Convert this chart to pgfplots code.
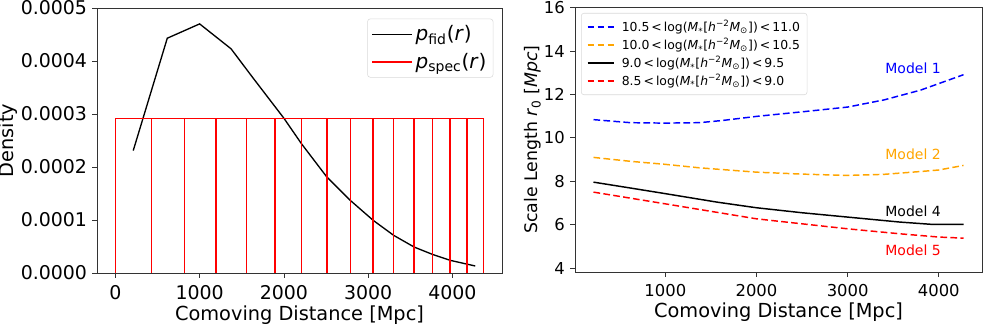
\documentclass[border=0pt]{standalone}
\usepackage{pgfplots}
\pgfplotsset{compat=1.18}
\usepackage{fontspec}
\setmainfont{DejaVu Sans}
\definecolor{mplorange}{RGB}{255,165,0}
\begin{document}
\begin{tikzpicture}[x=1pt,y=1pt]
\useasboundingbox (0,0) rectangle (740.25,249);
\pgfplotsset{
  every axis/.append style={
    scale only axis,
    axis line style={black!80, line width=0.6pt},
    tick align=outside, tick pos=left,
    major tick length=3.5pt,
    every tick/.style={black!80, line width=0.6pt},
    /pgf/number format/assume math mode=true,
    label style={font=\fontsize{14.5}{17}\selectfont},
  }
}
\begin{axis}[
  at={(72.75pt,44.25pt)}, anchor=south west,
  width=303.75pt, height=198.75pt,
  axis on top,
  xmin=-218, xmax=4588, ymin=0, ymax=0.0005,
  xtick={0,1000,2000,3000,4000},
  ytick={0,0.0001,0.0002,0.0003,0.0004,0.0005},
  scaled y ticks=false,
  yticklabel style={/pgf/number format/fixed, /pgf/number format/fixed zerofill, /pgf/number format/precision=4,
    anchor=east, inner sep=0pt, xshift=-3.8pt},
  xticklabel style={/pgf/number format/1000 sep={}, anchor=north, inner sep=0pt, yshift=-5.7pt},
  tick label style={font=\fontsize{14.2}{16}\selectfont},
  xlabel={Comoving Distance [Mpc]},
  xlabel style={at={(axis description cs:0.5,-0.181)}, anchor=base},
  ylabel={Density},
  ylabel style={at={(axis description cs:-0.206,0.5)}, anchor=base},
  legend style={at={(1,1)}, anchor=north east, xshift=-6.5pt, yshift=-8pt,
    draw=black!15, rounded corners=2pt, font=\fontsize{15}{18}\selectfont,
    row sep=4pt, inner sep=3pt},
  legend cell align=left,
  legend image code/.code={\draw (0pt,0pt) -- (30pt,0pt);},
]
\addplot[black, line width=1pt] coordinates {
(212,0.000231) (616,0.000443) (1000,0.000470) (1373,0.000423) (1624,0.000370)
(2000,0.000292) (2208,0.000244) (2510,0.000181) (2788,0.000137) (3059,0.0000994)
(3302,0.0000711) (3545,0.000049) (3761,0.0000352) (3973,0.0000239) (4271,0.0000132)};
\addlegendentry{\textit{p}\textsubscript{fid}(\textit{r})}
\addplot[red, line width=1.1pt] coordinates {(0,0.000292) (4369,0.000292)};
\addlegendentry{\textit{p}\textsubscript{spec}(\textit{r})}
\addplot[red, ycomb, line width=1.1pt, forget plot] coordinates {
(0,0.000292) (427,0.000292) (820,0.000292) (1196,0.000292) (1553,0.000292)
(1894,0.000292) (2208,0.000292) (2510,0.000292) (2788,0.000292) (3059,0.000292)
(3302,0.000292) (3545,0.000292) (3761,0.000292) (3973,0.000292) (4173,0.000292)
(4369,0.000292)};
\end{axis}
\begin{axis}[
  at={(431.25pt,45pt)}, anchor=south west,
  width=305.25pt, height=198.75pt,
  xmin=9, xmax=4474, ymin=3.82, ymax=16.03,
  xtick={1000,2000,3000,4000},
  ytick={4,6,8,10,12,14,16},
  xticklabel style={/pgf/number format/1000 sep={}, anchor=north, inner sep=0pt, yshift=-5.2pt},
  yticklabel style={anchor=east, inner sep=0pt, xshift=-4pt},
  tick label style={font=\fontsize{12.3}{14}\selectfont},
  xlabel={Comoving Distance [Mpc]},
  xlabel style={at={(axis description cs:0.5,-0.171)}, anchor=base},
  ylabel={Scale Length \textit{r}\textsubscript{0} [\textit{Mpc}]},
  ylabel style={at={(axis description cs:-0.093,0.5)}, anchor=base, font=\fontsize{13}{15}\selectfont},
  legend style={at={(0,1)}, anchor=north west, xshift=4.5pt, yshift=-4.5pt,
    draw=black!15, rounded corners=2pt, font=\fontsize{9.3}{11}\selectfont,
    nodes={inner sep=1pt}, row sep=1.3pt, column sep=4.5pt, inner sep=4.3pt},
  legend cell align=left,
  legend image code/.code={\draw (0pt,0pt) -- (19.5pt,0pt);},
]
\addplot[blue, line width=1.1pt, dash pattern=on 5pt off 2.5pt] coordinates {
(212,10.84) (616,10.70) (1000,10.68) (1373,10.70) (1624,10.80) (2000,10.99)
(2500,11.20) (3000,11.42) (3400,11.75) (3800,12.20) (4271,12.91)};
\addlegendentry{10.5\,<\,log(\textit{M}\textsubscript{*}[\textit{h}\textsuperscript{−2}\textit{M}\textsubscript{⊙}])\,<\,11.0}
\addplot[mplorange, line width=1.1pt, dash pattern=on 5pt off 2.5pt] coordinates {
(212,9.10) (616,8.92) (1000,8.78) (1373,8.62) (2000,8.42) (2500,8.33)
(3000,8.27) (3400,8.32) (3800,8.45) (4000,8.52) (4271,8.73)};
\addlegendentry{10.0\,<\,log(\textit{M}\textsubscript{*}[\textit{h}\textsuperscript{−2}\textit{M}\textsubscript{⊙}])\,<\,10.5}
\addplot[black, line width=1.1pt] coordinates {
(212,7.96) (616,7.69) (1000,7.43) (1566,7.04) (2000,6.78) (2500,6.55)
(3000,6.35) (3574,6.12) (3940,6.01) (4271,6.01)};
\addlegendentry{9.0\,<\,log(\textit{M}\textsubscript{*}[\textit{h}\textsuperscript{−2}\textit{M}\textsubscript{⊙}])\,<\,9.5}
\addplot[red, line width=1.1pt, dash pattern=on 5pt off 2.5pt] coordinates {
(212,7.50) (1000,6.96) (2000,6.27) (3000,5.81) (3574,5.58) (4000,5.43) (4271,5.38)};
\addlegendentry{8.5\,<\,log(\textit{M}\textsubscript{*}[\textit{h}\textsuperscript{−2}\textit{M}\textsubscript{⊙}])\,<\,9.0}
\node[anchor=west, blue, font=\fontsize{10.5}{12}\selectfont, inner sep=0pt] at (axis cs:3411,13.2) {Model 1};
\node[anchor=west, mplorange, font=\fontsize{10.5}{12}\selectfont, inner sep=0pt] at (axis cs:3411,9.24) {Model 2};
\node[anchor=west, black, font=\fontsize{10.5}{12}\selectfont, inner sep=0pt] at (axis cs:3411,6.63) {Model 4};
\node[anchor=west, red, font=\fontsize{10.5}{12}\selectfont, inner sep=0pt] at (axis cs:3411,4.81) {Model 5};
\end{axis}
\end{tikzpicture}
\end{document}
